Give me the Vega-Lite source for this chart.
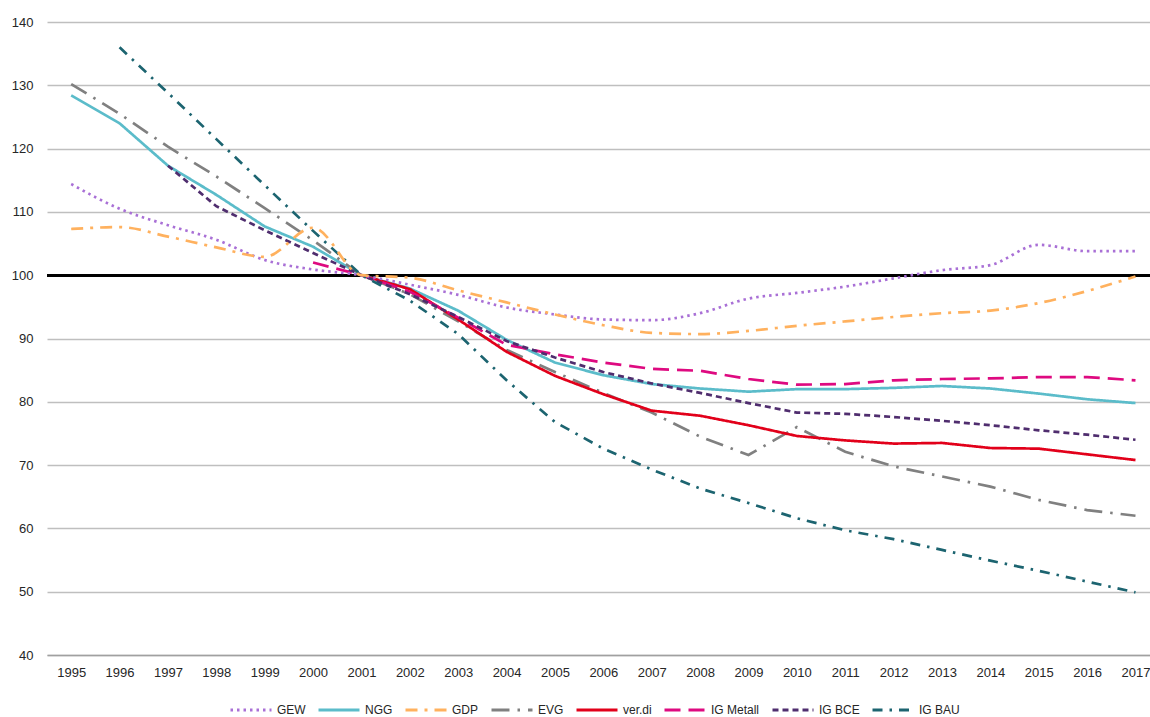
{
  "$schema": "https://vega.github.io/schema/vega-lite/v6.json",
  "width": 1103,
  "height": 633,
  "autosize": {"type": "none"},
  "padding": {"left": 47, "top": 22, "right": 0, "bottom": 62},
  "background": "white",
  "datasets": {
    "d": [
      {"series": "GEW", "year": 1995, "value": 114.4}, {"series": "GEW", "year": 1996, "value": 110.5}, {"series": "GEW", "year": 1997, "value": 107.9}, {"series": "GEW", "year": 1998, "value": 105.6}, {"series": "GEW", "year": 1999, "value": 102.4}, {"series": "GEW", "year": 2000, "value": 100.9}, {"series": "GEW", "year": 2001, "value": 100}, {"series": "GEW", "year": 2002, "value": 98.5}, {"series": "GEW", "year": 2003, "value": 96.9}, {"series": "GEW", "year": 2004, "value": 94.9}, {"series": "GEW", "year": 2005, "value": 93.8}, {"series": "GEW", "year": 2006, "value": 93.0}, {"series": "GEW", "year": 2007, "value": 92.9}, {"series": "GEW", "year": 2008, "value": 94.0}, {"series": "GEW", "year": 2009, "value": 96.3}, {"series": "GEW", "year": 2010, "value": 97.2}, {"series": "GEW", "year": 2011, "value": 98.2}, {"series": "GEW", "year": 2012, "value": 99.5}, {"series": "GEW", "year": 2013, "value": 100.8}, {"series": "GEW", "year": 2014, "value": 101.6}, {"series": "GEW", "year": 2015, "value": 104.8}, {"series": "GEW", "year": 2016, "value": 103.8}, {"series": "GEW", "year": 2017, "value": 103.8},
      {"series": "NGG", "year": 1995, "value": 128.4}, {"series": "NGG", "year": 1996, "value": 124.0}, {"series": "NGG", "year": 1997, "value": 117.3}, {"series": "NGG", "year": 1998, "value": 112.7}, {"series": "NGG", "year": 1999, "value": 107.7}, {"series": "NGG", "year": 2000, "value": 104.5}, {"series": "NGG", "year": 2001, "value": 100}, {"series": "NGG", "year": 2002, "value": 97.9}, {"series": "NGG", "year": 2003, "value": 94.4}, {"series": "NGG", "year": 2004, "value": 89.8}, {"series": "NGG", "year": 2005, "value": 86.2}, {"series": "NGG", "year": 2006, "value": 84.2}, {"series": "NGG", "year": 2007, "value": 82.8}, {"series": "NGG", "year": 2008, "value": 82.1}, {"series": "NGG", "year": 2009, "value": 81.6}, {"series": "NGG", "year": 2010, "value": 82.0}, {"series": "NGG", "year": 2011, "value": 82.0}, {"series": "NGG", "year": 2012, "value": 82.2}, {"series": "NGG", "year": 2013, "value": 82.5}, {"series": "NGG", "year": 2014, "value": 82.1}, {"series": "NGG", "year": 2015, "value": 81.3}, {"series": "NGG", "year": 2016, "value": 80.4}, {"series": "NGG", "year": 2017, "value": 79.8},
      {"series": "GDP", "year": 1995, "value": 107.3}, {"series": "GDP", "year": 1996, "value": 107.6}, {"series": "GDP", "year": 1997, "value": 106.1}, {"series": "GDP", "year": 1998, "value": 104.4}, {"series": "GDP", "year": 1999, "value": 102.9}, {"series": "GDP", "year": 2000, "value": 107.5}, {"series": "GDP", "year": 2001, "value": 100}, {"series": "GDP", "year": 2002, "value": 99.6}, {"series": "GDP", "year": 2003, "value": 97.6}, {"series": "GDP", "year": 2004, "value": 95.7}, {"series": "GDP", "year": 2005, "value": 93.8}, {"series": "GDP", "year": 2006, "value": 92.1}, {"series": "GDP", "year": 2007, "value": 90.9}, {"series": "GDP", "year": 2008, "value": 90.7}, {"series": "GDP", "year": 2009, "value": 91.2}, {"series": "GDP", "year": 2010, "value": 92.0}, {"series": "GDP", "year": 2011, "value": 92.7}, {"series": "GDP", "year": 2012, "value": 93.4}, {"series": "GDP", "year": 2013, "value": 94.0}, {"series": "GDP", "year": 2014, "value": 94.4}, {"series": "GDP", "year": 2015, "value": 95.6}, {"series": "GDP", "year": 2016, "value": 97.5}, {"series": "GDP", "year": 2017, "value": 99.8},
      {"series": "EVG", "year": 1995, "value": 130.2}, {"series": "EVG", "year": 1996, "value": 125.5}, {"series": "EVG", "year": 1997, "value": 120.3}, {"series": "EVG", "year": 1998, "value": 115.6}, {"series": "EVG", "year": 1999, "value": 110.6}, {"series": "EVG", "year": 2000, "value": 105.5}, {"series": "EVG", "year": 2001, "value": 100}, {"series": "EVG", "year": 2002, "value": 97.0}, {"series": "EVG", "year": 2003, "value": 92.7}, {"series": "EVG", "year": 2004, "value": 88.2}, {"series": "EVG", "year": 2005, "value": 84.7}, {"series": "EVG", "year": 2006, "value": 81.4}, {"series": "EVG", "year": 2007, "value": 78.3}, {"series": "EVG", "year": 2008, "value": 74.5}, {"series": "EVG", "year": 2009, "value": 71.6}, {"series": "EVG", "year": 2010, "value": 76.0}, {"series": "EVG", "year": 2011, "value": 72.1}, {"series": "EVG", "year": 2012, "value": 69.8}, {"series": "EVG", "year": 2013, "value": 68.2}, {"series": "EVG", "year": 2014, "value": 66.6}, {"series": "EVG", "year": 2015, "value": 64.5}, {"series": "EVG", "year": 2016, "value": 62.9}, {"series": "EVG", "year": 2017, "value": 62.0},
      {"series": "ver.di", "year": 2001, "value": 100}, {"series": "ver.di", "year": 2002, "value": 97.8}, {"series": "ver.di", "year": 2003, "value": 93.0}, {"series": "ver.di", "year": 2004, "value": 87.9}, {"series": "ver.di", "year": 2005, "value": 84.1}, {"series": "ver.di", "year": 2006, "value": 81.2}, {"series": "ver.di", "year": 2007, "value": 78.6}, {"series": "ver.di", "year": 2008, "value": 77.8}, {"series": "ver.di", "year": 2009, "value": 76.3}, {"series": "ver.di", "year": 2010, "value": 74.6}, {"series": "ver.di", "year": 2011, "value": 73.9}, {"series": "ver.di", "year": 2012, "value": 73.4}, {"series": "ver.di", "year": 2013, "value": 73.5}, {"series": "ver.di", "year": 2014, "value": 72.7}, {"series": "ver.di", "year": 2015, "value": 72.6}, {"series": "ver.di", "year": 2016, "value": 71.7}, {"series": "ver.di", "year": 2017, "value": 70.8},
      {"series": "IG Metall", "year": 2000, "value": 102.0}, {"series": "IG Metall", "year": 2001, "value": 100}, {"series": "IG Metall", "year": 2002, "value": 97.4}, {"series": "IG Metall", "year": 2003, "value": 93.3}, {"series": "IG Metall", "year": 2004, "value": 89.0}, {"series": "IG Metall", "year": 2005, "value": 87.5}, {"series": "IG Metall", "year": 2006, "value": 86.2}, {"series": "IG Metall", "year": 2007, "value": 85.2}, {"series": "IG Metall", "year": 2008, "value": 84.9}, {"series": "IG Metall", "year": 2009, "value": 83.6}, {"series": "IG Metall", "year": 2010, "value": 82.7}, {"series": "IG Metall", "year": 2011, "value": 82.8}, {"series": "IG Metall", "year": 2012, "value": 83.4}, {"series": "IG Metall", "year": 2013, "value": 83.6}, {"series": "IG Metall", "year": 2014, "value": 83.7}, {"series": "IG Metall", "year": 2015, "value": 83.9}, {"series": "IG Metall", "year": 2016, "value": 83.9}, {"series": "IG Metall", "year": 2017, "value": 83.4},
      {"series": "IG BCE", "year": 1997, "value": 117.3}, {"series": "IG BCE", "year": 1998, "value": 110.9}, {"series": "IG BCE", "year": 1999, "value": 107.1}, {"series": "IG BCE", "year": 2000, "value": 103.5}, {"series": "IG BCE", "year": 2001, "value": 100}, {"series": "IG BCE", "year": 2002, "value": 97.0}, {"series": "IG BCE", "year": 2003, "value": 93.4}, {"series": "IG BCE", "year": 2004, "value": 89.6}, {"series": "IG BCE", "year": 2005, "value": 87.0}, {"series": "IG BCE", "year": 2006, "value": 84.7}, {"series": "IG BCE", "year": 2007, "value": 82.9}, {"series": "IG BCE", "year": 2008, "value": 81.4}, {"series": "IG BCE", "year": 2009, "value": 79.8}, {"series": "IG BCE", "year": 2010, "value": 78.3}, {"series": "IG BCE", "year": 2011, "value": 78.1}, {"series": "IG BCE", "year": 2012, "value": 77.6}, {"series": "IG BCE", "year": 2013, "value": 77.0}, {"series": "IG BCE", "year": 2014, "value": 76.3}, {"series": "IG BCE", "year": 2015, "value": 75.5}, {"series": "IG BCE", "year": 2016, "value": 74.8}, {"series": "IG BCE", "year": 2017, "value": 74.0},
      {"series": "IG BAU", "year": 1996, "value": 136.0}, {"series": "IG BAU", "year": 1997, "value": 128.8}, {"series": "IG BAU", "year": 1998, "value": 121.5}, {"series": "IG BAU", "year": 1999, "value": 114.2}, {"series": "IG BAU", "year": 2000, "value": 107.0}, {"series": "IG BAU", "year": 2001, "value": 100}, {"series": "IG BAU", "year": 2002, "value": 96.0}, {"series": "IG BAU", "year": 2003, "value": 90.7}, {"series": "IG BAU", "year": 2004, "value": 83.4}, {"series": "IG BAU", "year": 2005, "value": 76.8}, {"series": "IG BAU", "year": 2006, "value": 72.6}, {"series": "IG BAU", "year": 2007, "value": 69.3}, {"series": "IG BAU", "year": 2008, "value": 66.3}, {"series": "IG BAU", "year": 2009, "value": 64.0}, {"series": "IG BAU", "year": 2010, "value": 61.6}, {"series": "IG BAU", "year": 2011, "value": 59.7}, {"series": "IG BAU", "year": 2012, "value": 58.3}, {"series": "IG BAU", "year": 2013, "value": 56.6}, {"series": "IG BAU", "year": 2014, "value": 54.9}, {"series": "IG BAU", "year": 2015, "value": 53.3}, {"series": "IG BAU", "year": 2016, "value": 51.6}, {"series": "IG BAU", "year": 2017, "value": 49.9}
    ]
  },
  "data": {"name": "d"},
  "layer": [
    {
      "mark": {"type": "rule", "color": "#000000", "strokeWidth": 2.5},
      "encoding": {
        "y": {"datum": 100, "type": "quantitative", "scale": {"domain": [40, 140], "nice": false, "zero": false},
          "axis": {"values": [40, 50, 60, 70, 80, 90, 100, 110, 120, 130, 140], "grid": true, "gridColor": "#bfbfbf", "gridWidth": 1.3, "domain": false, "ticks": false, "labelPadding": 14, "title": null}}
      }
    },
    {
      "transform": [{"filter": "datum.series !== 'GEW' && datum.series !== 'GDP'"}],
      "mark": {"type": "line", "strokeWidth": 2.7, "interpolate": "linear"},
      "encoding": {
        "x": {"field": "year", "type": "quantitative", "scale": {"domain": [1994.5, 2017.3], "nice": false, "zero": false},
          "axis": {"values": [1995, 1996, 1997, 1998, 1999, 2000, 2001, 2002, 2003, 2004, 2005, 2006, 2007, 2008, 2009, 2010, 2011, 2012, 2013, 2014, 2015, 2016, 2017], "format": "d", "grid": false, "ticks": false, "domain": true, "domainColor": "#a0a0a0", "domainWidth": 1.3, "labelPadding": 11, "labelFlush": false, "labelOverlap": false, "title": null}},
        "y": {"field": "value", "type": "quantitative"},
        "color": {"field": "series", "type": "nominal", "title": null,
          "scale": {"domain": ["GEW", "NGG", "GDP", "EVG", "ver.di", "IG Metall", "IG BCE", "IG BAU"],
            "range": ["#A970D6", "#5BBCCA", "#FFB15E", "#808080", "#E2001A", "#DE0A80", "#4F2D6E", "#1C6470"]}},
        "strokeDash": {"field": "series", "type": "nominal", "title": null,
          "scale": {"domain": ["GEW", "NGG", "GDP", "EVG", "ver.di", "IG Metall", "IG BCE", "IG BAU"],
            "range": [[2.5, 4], [1, 0], [12, 7, 3, 7], [18, 8, 2.5, 8], [1, 0], [16, 8], [6, 4], [10, 7, 2.5, 7]]}},
        "detail": {"field": "series"}
      }
    },
    {
      "transform": [{"filter": "datum.series === 'GEW' || datum.series === 'GDP'"}],
      "mark": {"type": "line", "strokeWidth": 2.7, "interpolate": "monotone"},
      "encoding": {
        "x": {"field": "year", "type": "quantitative"},
        "y": {"field": "value", "type": "quantitative"},
        "color": {"field": "series", "type": "nominal", "title": null},
        "strokeDash": {"field": "series", "type": "nominal", "title": null},
        "detail": {"field": "series"}
      }
    }
  ],
  "resolve": {"scale": {"color": "shared", "strokeDash": "shared"}},
  "config": {
    "view": {"stroke": null},
    "font": "Liberation Sans",
    "axis": {"labelFont": "Liberation Sans", "labelFontSize": 13, "labelColor": "#262626", "title": null},
    "legend": {
      "orient": "none",
      "legendX": 182,
      "legendY": 666,
      "direction": "horizontal",
      "symbolType": "stroke",
      "symbolSize": 1681,
      "symbolStrokeWidth": 3,
      "labelFont": "Liberation Sans",
      "labelFontSize": 12,
      "labelColor": "#262626",
      "labelOffset": 4,
      "columnPadding": 6,
      "title": null
    }
  }
}
